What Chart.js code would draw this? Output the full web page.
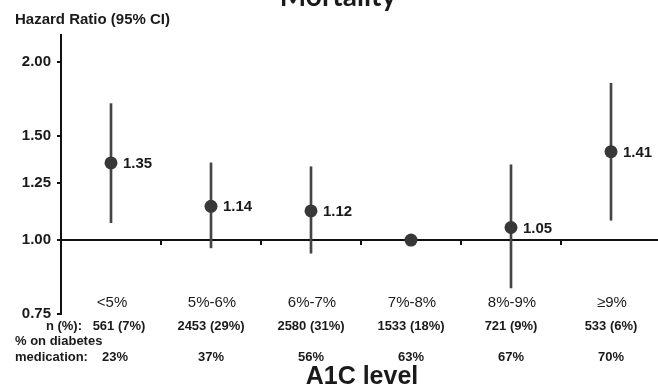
<!DOCTYPE html>
<html>
<head>
<meta charset="utf-8">
<script src="https://cdn.jsdelivr.net/npm/chart.js@4/dist/chart.umd.min.js"></script>
<style>
  html, body { margin: 0; padding: 0; background: #fff; overflow: hidden; }
  #wrap { width: 658px; height: 388px; overflow: hidden; }
</style>
</head>
<body>
<div id="wrap"><canvas id="chart" width="661" height="388"></canvas></div>
<script>
// A1C level groups and hazard ratios (log scale, 7%-8% is the reference)
const categories = ['<5%', '5%-6%', '6%-7%', '7%-8%', '8%-9%', '≥9%']
const hazardRatio = [1.35, 1.14, 1.12, 1.00, 1.05, 1.41]
const ciLow = [1.07, 0.97, 0.95, null, 0.83, 1.08]
const ciHigh = [1.70, 1.35, 1.33, null, 1.34, 1.84]
const yTicks = [0.75, 1.00, 1.25, 1.50, 2.00]

// table under the axis
const nCounts = ['561 (7%)', '2453 (29%)', '2580 (31%)', '1533 (18%)', '721 (9%)', '533 (6%)']
const onMedication = ['23%', '37%', '56%', '63%', '67%', '70%']

const FONT = '"Liberation Sans", Arial, sans-serif'
const TEXT = '#1a1a1a'

const textPlugin = {
  id: 'textPlugin',
  afterDraw(chart) {
    const ctx = chart.ctx
    const { x, y } = chart.scales
    ctx.save()
    ctx.fillStyle = TEXT

    ctx.textBaseline = 'alphabetic'
    ctx.textAlign = 'center'
    ctx.font = 'bold 28px Lato, ' + FONT
    ctx.fillText('Mortality', 338, 6)

    ctx.textAlign = 'left'
    ctx.font = 'bold 15px ' + FONT
    ctx.fillText('Hazard Ratio (95% CI)', 15, 24)

    // value labels beside the points (not for the reference group)
    ctx.textBaseline = 'middle'
    hazardRatio.forEach((v, i) => {
      if (ciLow[i] == null) return
      ctx.fillText(v.toFixed(2), x.getPixelForValue(i) + 12, y.getPixelForValue(v) + 1)
    })

    ctx.textBaseline = 'alphabetic'
    ctx.textAlign = 'center'
    ctx.font = '15px ' + FONT
    categories.forEach((c, i) => ctx.fillText(c, x.getPixelForValue(i) + 1, 307))

    ctx.font = 'bold 13px ' + FONT
    nCounts.forEach((c, i) => ctx.fillText(c, x.getPixelForValue(i) + (i === 0 ? 8 : 0), 330))
    onMedication.forEach((c, i) => ctx.fillText(c, x.getPixelForValue(i) + (i === 0 ? 4 : 0), 361))

    ctx.textAlign = 'right'
    ctx.fillText('n (%):', 82, 330)
    ctx.textAlign = 'left'
    ctx.fillText('% on diabetes', 15, 345)
    ctx.fillText('medication:', 15, 361)

    ctx.textAlign = 'center'
    ctx.font = 'bold 25px ' + FONT
    ctx.fillText('A1C level', 362, 384)
    ctx.restore()
  }
}

const ctx = document.getElementById('chart').getContext('2d')
const chart = new Chart(ctx, {
  type: 'bar',
  data: {
    labels: categories,
    datasets: [
      {
        type: 'line',
        data: hazardRatio,
        showLine: false,
        pointRadius: 6.5,
        pointBorderWidth: 0,
        pointBackgroundColor: '#383838',
        order: 0
      },
      {
        type: 'bar',
        data: ciLow.map((lo, i) => lo == null ? null : [lo, ciHigh[i]]),
        backgroundColor: '#454545',
        barThickness: 2,
        order: 1
      }
    ]
  },
  options: {
    responsive: false,
    animation: false,
    devicePixelRatio: 1,
    layout: { autoPadding: false, padding: { top: 35, right: 0, bottom: 74, left: 0 } },
    plugins: {
      legend: { display: false },
      tooltip: { enabled: false }
    },
    scales: {
      x: {
        type: 'category',
        position: { y: 1 },
        ticks: { display: false },
        grid: {
          offset: true,
          drawOnChartArea: false,
          drawTicks: true,
          tickLength: 4,
          color: '#111',
          lineWidth: 2
        },
        border: { color: '#111', width: 2 }
      },
      y: {
        type: 'logarithmic',
        position: 'left',
        min: 0.75,
        max: 2.22,
        afterBuildTicks: scale => { scale.ticks = yTicks.map(v => ({ value: v })) },
        afterFit: scale => { scale.width = 61 },
        ticks: {
          callback: v => Number(v).toFixed(2),
          font: { family: FONT, size: 15, weight: 'bold' },
          color: TEXT,
          padding: 6
        },
        grid: {
          drawOnChartArea: false,
          drawTicks: true,
          tickLength: 4,
          color: '#111',
          lineWidth: 2
        },
        border: { color: '#111', width: 2 }
      }
    }
  },
  plugins: [textPlugin]
})
</script>
</body>
</html>
